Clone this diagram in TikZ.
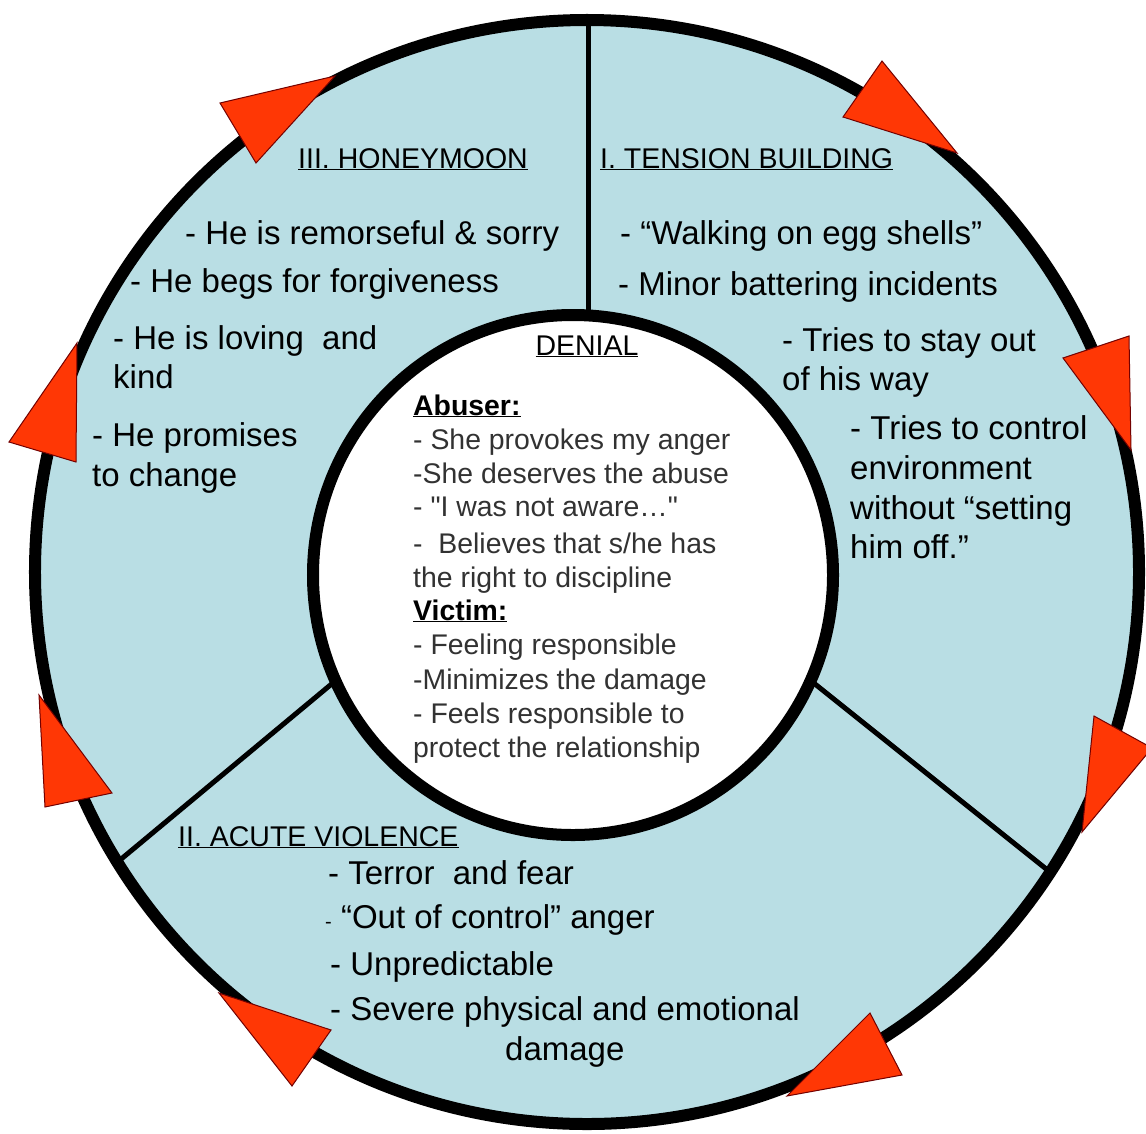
\documentclass[tikz,border=0pt]{standalone}
\usepackage{fontspec}
\setmainfont{Liberation Sans}
\definecolor{ringblue}{RGB}{185,222,228}
\definecolor{arrowred}{RGB}{255,55,5}
\definecolor{innergray}{RGB}{50,50,50}
\begin{document}
\begin{tikzpicture}[x=1bp,y=-1bp,
  bullet/.style={anchor=base west, inner sep=0pt, font=\fontsize{33bp}{40bp}\selectfont},
  header/.style={anchor=base west, inner sep=0pt, font=\fontsize{28.5bp}{34bp}\selectfont},
  innertxt/.style={anchor=base west, inner sep=0pt, text=innergray, font=\fontsize{28.4bp}{34bp}\selectfont},
  innerhead/.style={anchor=base west, inner sep=0pt, font=\fontsize{28.4bp}{34bp}\selectfont\bfseries},
  tri/.style={fill=arrowred, draw=black!55!red, line width=1bp, line join=miter},
  divider/.style={line width=5bp},
  ring/.style={line width=12bp}]
\useasboundingbox (0,0) rectangle (1146,1134);
\coordinate (oc) at (587,572);
\coordinate (ic) at (573,575);
% ring background
\fill[ringblue] (oc) circle[radius=552bp];
% dividers
\coordinate (v1) at (588,20);
\coordinate (v2) at (588,330);
\coordinate (l1) at (340,677);
\coordinate (l2) at (114,865);
\coordinate (r1) at (800,672);
\coordinate (r2) at (1050,872);
\draw[divider] (v1) -- (v2);
\draw[divider] (l1) -- (l2);
\draw[divider] (r1) -- (r2);
% inner circle and outer ring
\filldraw[fill=white, ring] (ic) circle[radius=260bp];
\draw[ring] (oc) circle[radius=552bp];
% arrowheads (clockwise)
\draw[tri] (220,103) -- (335,76) -- (256,163) -- cycle;
\draw[tri] (882,61) -- (957,153) -- (843,117) -- cycle;
\draw[tri] (1063,358) -- (1129,336) -- (1131,450) -- cycle;
\draw[tri] (1094,716) -- (1152,748) -- (1082,832) -- cycle;
\draw[tri] (870,1013) -- (902,1075) -- (787,1096) -- cycle;
\draw[tri] (219,993) -- (331,1030) -- (292,1086) -- cycle;
\draw[tri] (39,695) -- (112,793) -- (45,807) -- cycle;
\draw[tri] (77,343) -- (76,462) -- (9,442) -- cycle;
% III. Honeymoon
\node[header] (h3) at (298,168) {\underline{III. HONEYMOON}};
\node[bullet] (t3a) at (185,244) {- He is remorseful \& sorry};
\node[bullet] (t3b) at (130,292) {- He begs for forgiveness};
\node[bullet] (t3c) at (113,349) {- He is loving\ \ and};
\node[bullet] (t3d) at (113,388) {kind};
\node[bullet] (t3e) at (92,446) {- He promises};
\node[bullet] (t3f) at (92,486) {to change};
% I. Tension building
\node[header] (h1) at (600,168) {\underline{I. TENSION BUILDING}};
\node[bullet] (t1a) at (620,244) {- “Walking on egg shells”};
\node[bullet] (t1b) at (618,295) {- Minor battering incidents};
\node[bullet] (t1c) at (782,351) {- Tries to stay out};
\node[bullet] (t1d) at (782,390) {of his way};
\node[bullet] (t1e) at (850,439) {- Tries to control};
\node[bullet] (t1f) at (850,479) {environment};
\node[bullet] (t1g) at (850,519) {without “setting};
\node[bullet] (t1h) at (850,558) {him off.”};
% II. Acute violence
\node[header] (h2) at (178,846) {\underline{II. ACUTE VIOLENCE}};
\node[bullet] (t2a) at (328,884) {- Terror\ \ and fear};
\node[bullet] (t2b) at (325,928) {{\fontsize{20bp}{24bp}\selectfont -} “Out of control” anger};
\node[bullet] (t2c) at (330,975) {- Unpredictable};
\node[bullet] (t2d) at (330,1020) {- Severe physical and emotional};
\node[bullet] (t2e) at (505,1060) {damage};
% Denial
\node[header, anchor=base] (den) at (587,355) {\underline{DENIAL}};
\node[innerhead] (ab) at (413,415) {\underline{Abuser:}};
\node[innertxt] (i1) at (413,449) {- She provokes my anger};
\node[innertxt] (i2) at (413,483) {-She deserves the abuse};
\node[innertxt] (i3) at (413,516) {- \textquotedbl I was not aware…\textquotedbl};
\node[innertxt] (i4) at (413,553) {-\ \ Believes that s/he has};
\node[innertxt] (i5) at (413,587) {the right to discipline};
\node[innerhead] (vi) at (413,620) {\underline{Victim:}};
\node[innertxt] (i6) at (413,654) {- Feeling responsible};
\node[innertxt] (i7) at (413,689) {-Minimizes the damage};
\node[innertxt] (i8) at (413,723) {- Feels responsible to};
\node[innertxt] (i9) at (413,757) {protect the relationship};
\end{tikzpicture}
\end{document}
